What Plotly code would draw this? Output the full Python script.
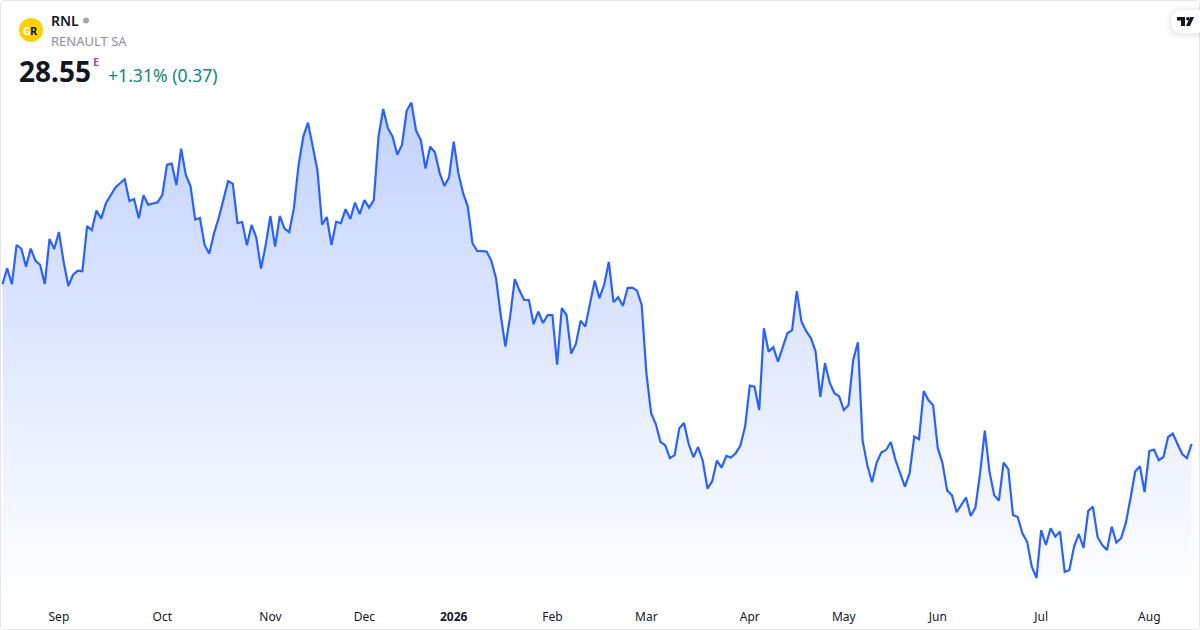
import pandas as pd
import plotly.graph_objects as go

W, H = 1200, 630
PLOT_BOTTOM = 603
X0, DX = 2.5, 4.7
PX_PER_UNIT = 20.0
TOP_PRICE = 50.75

holidays = ["2025-12-24", "2025-12-25", "2025-12-26", "2025-12-31", "2026-01-01",
            "2026-04-03", "2026-04-06", "2026-05-01"]
dates = [d.strftime("%Y-%m-%d") for d in pd.bdate_range("2025-08-14", "2026-08-14")
         if d.strftime("%Y-%m-%d") not in holidays]

prices = [
    36.54, 37.34, 36.54, 38.50, 38.32, 37.42, 38.32, 37.72, 37.50, 36.55,
    38.80, 38.30, 39.15, 37.67, 36.45, 37.00, 37.22, 37.19, 39.44, 39.25,
    40.22, 39.82, 40.59, 41.00, 41.37, 41.59, 41.79, 40.70, 40.80, 39.84,
    40.99, 40.52, 40.57, 40.64, 41.00, 42.52, 42.57, 41.49, 43.32, 42.00,
    41.45, 39.77, 39.85, 38.50, 38.07, 39.09, 39.84, 40.75, 41.69, 41.57,
    39.59, 39.65, 38.49, 39.50, 38.87, 37.32, 38.50, 39.95, 38.42, 39.95,
    39.32, 39.15, 40.34, 42.50, 43.92, 44.62, 43.50, 42.25, 39.52, 39.90,
    38.50, 39.67, 39.59, 40.29, 39.80, 40.62, 40.04, 40.75, 40.37, 40.74,
    43.92, 45.30, 44.34, 43.92, 43.02, 43.50, 45.22, 45.62, 44.22, 43.75,
    42.32, 43.42, 43.14, 42.12, 41.45, 41.87, 43.67, 42.09, 41.09, 40.42,
    38.59, 38.20, 38.19, 38.17, 37.72, 36.84, 35.00, 33.42, 34.92, 36.79,
    36.22, 35.75, 35.75, 34.54, 35.17, 34.60, 34.99, 34.99, 32.52, 35.34,
    35.00, 33.07, 33.55, 34.72, 34.42, 35.50, 36.72, 35.84, 36.50, 37.65,
    35.64, 35.89, 35.45, 36.35, 36.37, 36.22, 35.50, 32.09, 30.09, 29.55,
    28.65, 28.49, 27.84, 27.99, 29.34, 29.60, 28.55, 27.89, 28.40, 27.70,
    26.32, 26.69, 27.72, 27.37, 27.95, 27.87, 28.09, 28.47, 29.42, 31.47,
    31.42, 30.25, 34.34, 33.17, 33.39, 32.67, 33.37, 34.09, 34.24, 36.19,
    34.67, 34.19, 33.85, 33.17, 30.90, 32.59, 31.62, 31.09, 30.94, 30.25,
    30.49, 32.75, 33.64, 28.72, 27.50, 26.64, 27.62, 28.14, 28.25, 28.65,
    27.75, 27.10, 26.42, 27.09, 28.92, 28.79, 31.20, 30.75, 30.49, 28.34,
    27.59, 26.22, 25.99, 25.14, 25.50, 25.87, 24.95, 25.37, 27.09, 29.22,
    27.17, 25.99, 25.72, 27.62, 27.29, 25.00, 24.90, 24.09, 23.67, 22.42,
    21.85, 24.25, 23.50, 24.34, 23.92, 24.17, 22.15, 22.25, 23.42, 24.05,
    23.35, 25.20, 25.42, 23.89, 23.50, 23.25, 24.42, 23.62, 23.84, 24.59,
    25.84, 27.17, 27.44, 26.15, 28.20, 28.27, 27.74, 27.89, 28.90, 29.07,
    28.55, 28.05, 27.85, 28.55,
]

tick_dates = ["2025-09-01", "2025-10-01", "2025-11-03", "2025-12-01", "2026-01-02",
              "2026-02-02", "2026-03-02", "2026-04-01", "2026-05-04", "2026-06-01",
              "2026-07-01", "2026-08-03"]
tick_labels = ["Sep", "Oct", "Nov", "Dec", "<b>2026</b>", "Feb", "Mar", "Apr", "May",
               "Jun", "Jul", "Aug"]

FONT = "Noto Sans"
LINE = "#2962FF"
INK = "#131722"

bottom_price = TOP_PRICE - PLOT_BOTTOM / PX_PER_UNIT
fig = go.Figure(go.Scatter(
    x=dates, y=prices, mode="lines", line=dict(color=LINE, width=2.2),
    fill="tozeroy",
    fillgradient=dict(
        type="vertical",
        colorscale=[[0, "rgba(41,98,255,0)"], [1, "rgba(41,98,255,0.28)"]],
        start=bottom_price, stop=max(prices),
    ),
    hoverinfo="skip",
))


def px(x):
    return x / W


def py(y):
    return 1 - y / H


def P(*pts):
    """Build a paper-coordinate SVG path from (cmd, x, y, ...) tuples given in page pixels."""
    out = []
    for seg in pts:
        cmd, coords = seg[0], seg[1:]
        parts = []
        for i in range(0, len(coords), 2):
            parts.append(f"{px(coords[i]):.5f},{py(coords[i + 1]):.5f}")
        out.append(cmd + " ".join(parts))
    return " ".join(out)


def rr_path(x0, y0, x1, y1, r):
    return P(("M", x0 + r, y0), ("L", x1 - r, y0), ("Q", x1, y0, x1, y0 + r),
             ("L", x1, y1 - r), ("Q", x1, y1, x1 - r, y1), ("L", x0 + r, y1),
             ("Q", x0, y1, x0, y1 - r), ("L", x0, y0 + r), ("Q", x0, y0, x0 + r, y0)) + " Z"


shapes = []
shapes.append(dict(type="path", xref="paper", yref="paper", path=rr_path(0.5, 0.5, 1199.5, 629.5, 4),
                   line=dict(color="#E6E6E6", width=1), layer="above"))
# logo circle
shapes.append(dict(type="circle", xref="paper", yref="paper", x0=px(19), x1=px(43), y0=py(42), y1=py(18),
                   fillcolor="#FFD000", line=dict(width=0), layer="above"))
# market status dot
shapes.append(dict(type="circle", xref="paper", yref="paper", x0=px(83), x1=px(89), y0=py(23.5), y1=py(17.5),
                   fillcolor="#A5A7AD", line=dict(width=0), layer="above"))
# watermark pill shadow and body
for grow, alpha in [(6, 0.006), (5, 0.008), (4, 0.010), (3, 0.012), (2, 0.014), (1, 0.016)]:
    shapes.append(dict(type="path", xref="paper", yref="paper",
                       path=rr_path(1171 - grow, 10 - grow + 1, 1215, 33 + grow + 1, 11 + grow),
                       fillcolor=f"rgba(19,23,34,{alpha})", line=dict(width=0), layer="above"))
shapes.append(dict(type="path", xref="paper", yref="paper", path=rr_path(1171, 10, 1215, 33, 11),
                   fillcolor="#FFFFFF", line=dict(width=0), layer="above"))
# watermark glyph
shapes.append(dict(type="path", xref="paper", yref="paper",
                   path=P(("M", 1177, 17), ("L", 1185, 17), ("L", 1185, 26), ("L", 1181, 26),
                          ("L", 1181, 20.5), ("L", 1177, 20.5)) + " Z",
                   fillcolor="#131722", line=dict(width=0), layer="above"))
shapes.append(dict(type="circle", xref="paper", yref="paper", x0=px(1186), x1=px(1189.4), y0=py(20.5), y1=py(17),
                   fillcolor="#131722", line=dict(width=0), layer="above"))
shapes.append(dict(type="path", xref="paper", yref="paper",
                   path=P(("M", 1190, 17), ("L", 1194, 17), ("L", 1190, 26), ("L", 1186, 26)) + " Z",
                   fillcolor="#131722", line=dict(width=0), layer="above"))


def note(text, x, y, size, color, xanchor="left", weight=400):
    return dict(text=text, x=px(x), y=py(y), xref="paper", yref="paper",
                xanchor=xanchor, yanchor="middle", showarrow=False, borderpad=0, borderwidth=0,
                font=dict(family=FONT, size=size, color=color, weight=weight))


annotations = [
    note("RNL", 50.5, 21, 14, INK, weight=600),
    note("RENAULT SA", 50.5, 41, 13, "#8C8F98"),
    note("28.55", 18.5, 70.5, 28, INK, weight=700),
    note("E", 92.5, 61.5, 11, "#AB47BC", weight=700),
    note("+1.31% (0.37)", 107.5, 74.5, 17.6, "#0E8A74"),
    note("G", 27.5, 30.5, 11, "#FFFFFF", xanchor="center", weight=700),
    note("R", 34, 30.5, 11, "#111111", xanchor="center", weight=700),
]

fig.update_layout(
    width=W, height=H, autosize=False,
    margin=dict(l=0, r=0, t=0, b=0),
    paper_bgcolor="#FFFFFF", plot_bgcolor="#FFFFFF",
    showlegend=False, hovermode=False,
    font=dict(family=FONT, size=12, color=INK),
    xaxis=dict(
        type="category", range=[-X0 / DX, (W - X0) / DX],
        tickmode="array", tickvals=tick_dates, ticktext=tick_labels,
        showgrid=False, zeroline=False, showline=False, ticks="",
        ticklabelstandoff=5,
        tickfont=dict(family=FONT, size=12, color=INK), anchor="y",
    ),
    yaxis=dict(
        domain=[1 - PLOT_BOTTOM / H, 1], range=[bottom_price, TOP_PRICE],
        showgrid=False, zeroline=False, showline=False, showticklabels=False, ticks="",
    ),
    shapes=shapes, annotations=annotations,
)

fig.write_html("out.html", config={"displayModeBar": False, "staticPlot": True},
               post_script="document.body.style.margin='0';document.documentElement.style.overflow='hidden';")
